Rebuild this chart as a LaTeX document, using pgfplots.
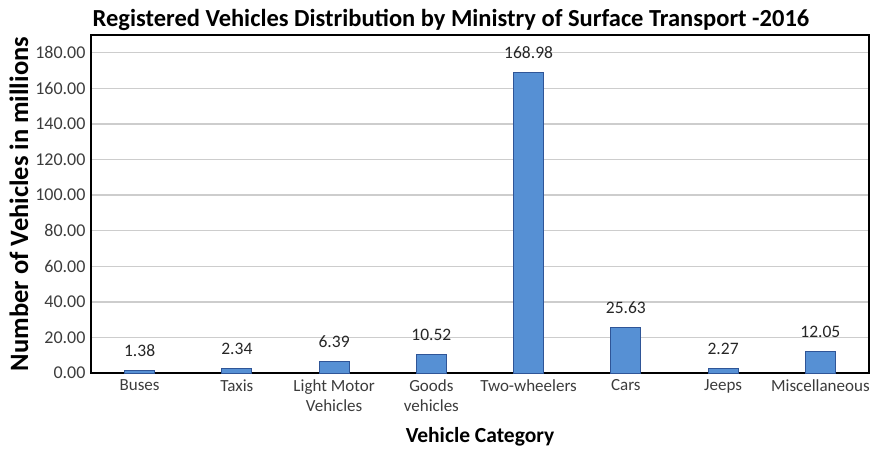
\documentclass[border=0pt]{standalone}
\usepackage{pgfplots}
\pgfplotsset{compat=1.18}
\usepackage{fontspec}
\setmainfont{Carlito}
\definecolor{barfill}{RGB}{86,144,212}
\definecolor{baredge}{RGB}{47,85,151}
\definecolor{gridgray}{RGB}{205,205,205}
\definecolor{labgray}{RGB}{60,60,60}
\begin{document}
\begin{tikzpicture}
\path (0,0) rectangle (874pt,456pt);
\begin{axis}[
  at={(91pt,83pt)}, anchor=south west,
  scale only axis, width=778pt, height=338pt,
  xmin=-0.5, xmax=7.5, ymin=0, ymax=190,
  xtick={0,...,7},
  xticklabels={Buses,Taxis,{Light Motor\\Vehicles},{Goods\\vehicles},Two-wheelers,Cars,Jeeps,Miscellaneous},
  xticklabel style={align=center, font=\fontsize{17}{20}\selectfont, text=labgray, yshift=-3pt},
  ytick={0,20,...,180},
  yticklabel style={font=\fontsize{18}{20}\selectfont, text=labgray, xshift=-2pt},
  yticklabel={\pgfmathprintnumber[fixed,fixed zerofill,precision=2,assume math mode=true]{\tick}},
  major tick length=0pt,
  ymajorgrids, grid style={gridgray, line width=1.4pt},
  axis line style={black, line width=1.6pt},
  ybar, bar width=30pt,
  title={\bfseries Registered Vehicles Distribution by Ministry of Surface Transport -2016},
  title style={font=\fontsize{24.5}{28}\selectfont, xshift=-29pt, yshift=-5pt},
  xlabel={\bfseries Vehicle Category},
  xlabel style={font=\fontsize{21.5}{24}\selectfont, yshift=-9pt},
  ylabel={\bfseries Number of Vehicles in millions},
  ylabel style={font=\fontsize{26.5}{30}\selectfont, at={(axis description cs:-0.0925,0.5)}, anchor=center},
  nodes near coords,
  nodes near coords style={font=\fontsize{17.5}{20}\selectfont, text=black!85, yshift=10pt,
    /pgf/number format/fixed, /pgf/number format/fixed zerofill,
    /pgf/number format/precision=2, /pgf/number format/assume math mode=true},
]
\addplot[fill=barfill, draw=baredge, line width=1pt] coordinates {
  (0,1.38) (1,2.34) (2,6.39) (3,10.52) (4,168.98) (5,25.63) (6,2.27) (7,12.05)
};
\end{axis}
\end{tikzpicture}
\end{document}
